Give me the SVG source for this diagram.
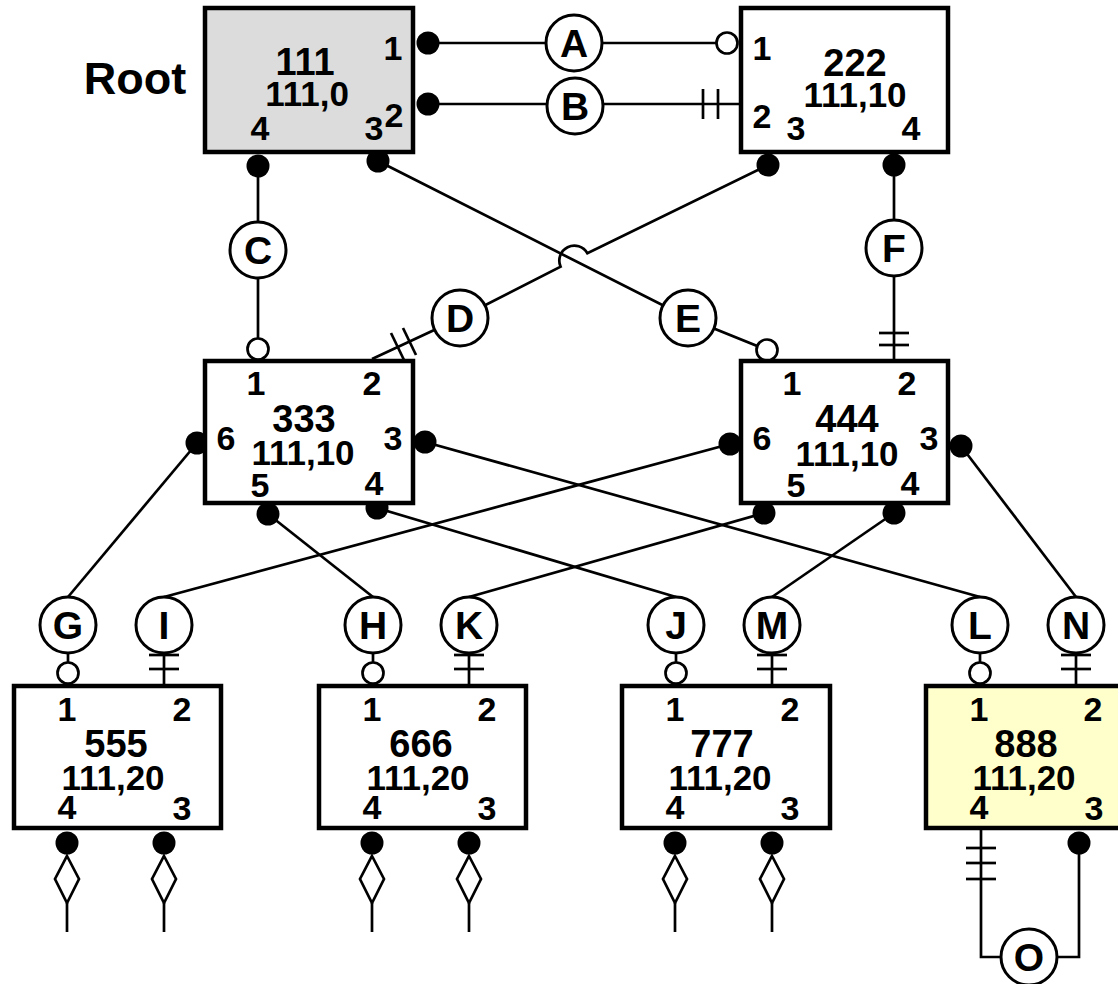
<svg xmlns="http://www.w3.org/2000/svg" width="1118" height="984" viewBox="0 0 1118 984">
<style>
.box{stroke:#000;stroke-width:4.5;fill:#fff}
.t{font-family:"Liberation Sans",Arial,Helvetica,sans-serif;font-weight:bold;text-anchor:middle;fill:#000}
.nm{font-size:38px}
.sub{font-size:35px}
.pt{font-size:34px}
.ln{stroke:#000;stroke-width:2.7;fill:none}
.dot{fill:#000}
.oc{fill:#fff;stroke:#000;stroke-width:2.7}
.lc{fill:#fff;stroke:#000;stroke-width:3}
.lt{font-size:39px}
</style>
<rect width="1118" height="984" fill="#fff"/>
<g id="connectors">
  <!-- A -->
  <line class="ln" x1="428" y1="43" x2="716" y2="43"/>
  <circle class="dot" cx="428" cy="43" r="11.5"/>
  <circle class="oc" cx="727" cy="43" r="10.5"/>
  <circle class="lc" cx="574" cy="43" r="28"/>
  <text class="t lt" x="574" y="57">A</text>
  <!-- B -->
  <line class="ln" x1="428" y1="104" x2="740" y2="104"/>
  <line class="ln" x1="703" y1="89" x2="703" y2="119"/>
  <line class="ln" x1="718" y1="89" x2="718" y2="119"/>
  <circle class="dot" cx="428" cy="104" r="11.5"/>
  <circle class="lc" cx="575" cy="106" r="28"/>
  <text class="t lt" x="575" y="120">B</text>
  <!-- C -->
  <line class="ln" x1="258" y1="166" x2="258" y2="339"/>
  <circle class="dot" cx="258" cy="166" r="11.5"/>
  <circle class="oc" cx="258" cy="349" r="10.5"/>
  <circle class="lc" cx="258" cy="250" r="28"/>
  <text class="t lt" x="258" y="264">C</text>
  <!-- E -->
  <path class="ln" d="M378,161 L688,318 L767,350"/>
  <circle class="dot" cx="378" cy="161" r="11.5"/>
  <circle class="oc" cx="767" cy="350" r="10.5"/>
  <circle class="lc" cx="688" cy="318" r="28"/>
  <text class="t lt" x="688" y="332">E</text>
  <!-- D (with hop over E) -->
  <path class="ln" d="M768,165 L587.4,253.3 A15,15 0 0 0 560.6,266.7 L460,318 L372,359"/>
  <line class="ln" x1="391" y1="333" x2="404" y2="360"/>
  <line class="ln" x1="403" y1="328" x2="416" y2="355"/>
  <circle class="dot" cx="768" cy="165" r="11.5"/>
  <circle class="lc" cx="460" cy="318" r="28"/>
  <text class="t lt" x="460" y="332">D</text>
  <!-- F -->
  <line class="ln" x1="894" y1="165" x2="894" y2="360"/>
  <line class="ln" x1="879" y1="333" x2="909" y2="333"/>
  <line class="ln" x1="879" y1="345" x2="909" y2="345"/>
  <circle class="dot" cx="894" cy="165" r="11.5"/>
  <circle class="lc" cx="894" cy="248" r="28"/>
  <text class="t lt" x="894" y="262">F</text>

  <!-- long connectors to bottom circles -->
  <line class="ln" x1="197" y1="443" x2="68" y2="597"/>
  <line class="ln" x1="730" y1="444" x2="164" y2="597"/>
  <line class="ln" x1="268" y1="514" x2="373" y2="597"/>
  <line class="ln" x1="764" y1="513" x2="469" y2="597"/>
  <line class="ln" x1="377" y1="508" x2="676" y2="597"/>
  <line class="ln" x1="894" y1="513" x2="772" y2="597"/>
  <line class="ln" x1="425" y1="442" x2="980" y2="597"/>
  <line class="ln" x1="961" y1="446" x2="1076" y2="597"/>
  <circle class="dot" cx="197" cy="443" r="11.5"/>
  <circle class="dot" cx="425" cy="442" r="11.5"/>
  <circle class="dot" cx="268" cy="514" r="11.5"/>
  <circle class="dot" cx="377" cy="508" r="11.5"/>
  <circle class="dot" cx="730" cy="444" r="11.5"/>
  <circle class="dot" cx="961" cy="446" r="11.5"/>
  <circle class="dot" cx="764" cy="513" r="11.5"/>
  <circle class="dot" cx="894" cy="513" r="11.5"/>

  <!-- optional (open circle) ends -->
  <line class="ln" x1="68" y1="625" x2="68" y2="662"/>
  <circle class="oc" cx="68" cy="673" r="10.5"/>
  <line class="ln" x1="373" y1="625" x2="373" y2="662"/>
  <circle class="oc" cx="373" cy="673" r="10.5"/>
  <line class="ln" x1="676" y1="625" x2="676" y2="662"/>
  <circle class="oc" cx="676" cy="673" r="10.5"/>
  <line class="ln" x1="980" y1="625" x2="980" y2="662"/>
  <circle class="oc" cx="980" cy="673" r="10.5"/>
  <!-- mandatory (double bar) ends -->
  <line class="ln" x1="164" y1="625" x2="164" y2="685"/>
  <line class="ln" x1="149" y1="655" x2="179" y2="655"/>
  <line class="ln" x1="149" y1="669" x2="179" y2="669"/>
  <line class="ln" x1="469" y1="625" x2="469" y2="685"/>
  <line class="ln" x1="454" y1="655" x2="484" y2="655"/>
  <line class="ln" x1="454" y1="669" x2="484" y2="669"/>
  <line class="ln" x1="772" y1="625" x2="772" y2="685"/>
  <line class="ln" x1="757" y1="655" x2="787" y2="655"/>
  <line class="ln" x1="757" y1="669" x2="787" y2="669"/>
  <line class="ln" x1="1076" y1="625" x2="1076" y2="685"/>
  <line class="ln" x1="1061" y1="655" x2="1091" y2="655"/>
  <line class="ln" x1="1061" y1="669" x2="1091" y2="669"/>

  <!-- bottom circles -->
  <circle class="lc" cx="68" cy="625" r="28"/><text class="t lt" x="68" y="639">G</text>
  <circle class="lc" cx="164" cy="625" r="28"/><text class="t lt" x="164" y="639">I</text>
  <circle class="lc" cx="373" cy="625" r="28"/><text class="t lt" x="373" y="639">H</text>
  <circle class="lc" cx="469" cy="625" r="28"/><text class="t lt" x="469" y="639">K</text>
  <circle class="lc" cx="676" cy="625" r="28"/><text class="t lt" x="676" y="639">J</text>
  <circle class="lc" cx="772" cy="625" r="28"/><text class="t lt" x="772" y="639">M</text>
  <circle class="lc" cx="980" cy="625" r="28"/><text class="t lt" x="980" y="639">L</text>
  <circle class="lc" cx="1076" cy="625" r="28"/><text class="t lt" x="1076" y="639">N</text>

  <!-- dangling diamond connectors -->
  <g id="dangles">
    <circle class="dot" cx="67" cy="843" r="11.5"/>
    <path class="oc" d="M67,856 L79,879 L67,903 L55,879 Z"/>
    <line class="ln" x1="67" y1="903" x2="67" y2="932"/>
    <circle class="dot" cx="164" cy="843" r="11.5"/>
    <path class="oc" d="M164,856 L176,879 L164,903 L152,879 Z"/>
    <line class="ln" x1="164" y1="903" x2="164" y2="932"/>
    <circle class="dot" cx="372" cy="843" r="11.5"/>
    <path class="oc" d="M372,856 L384,879 L372,903 L360,879 Z"/>
    <line class="ln" x1="372" y1="903" x2="372" y2="932"/>
    <circle class="dot" cx="469" cy="843" r="11.5"/>
    <path class="oc" d="M469,856 L481,879 L469,903 L457,879 Z"/>
    <line class="ln" x1="469" y1="903" x2="469" y2="932"/>
    <circle class="dot" cx="675" cy="843" r="11.5"/>
    <path class="oc" d="M675,856 L687,879 L675,903 L663,879 Z"/>
    <line class="ln" x1="675" y1="903" x2="675" y2="932"/>
    <circle class="dot" cx="772" cy="843" r="11.5"/>
    <path class="oc" d="M772,856 L784,879 L772,903 L760,879 Z"/>
    <line class="ln" x1="772" y1="903" x2="772" y2="932"/>
  </g>
  <!-- O: self-relationship on 888 -->
  <path class="ln" d="M981,830 L981,957 L1001,957"/>
  <path class="ln" d="M1057,957 L1079,957 L1079,843"/>
  <line class="ln" x1="966" y1="848" x2="996" y2="848"/>
  <line class="ln" x1="966" y1="863" x2="996" y2="863"/>
  <line class="ln" x1="966" y1="879" x2="996" y2="879"/>
  <circle class="dot" cx="1079" cy="843" r="11.5"/>
  <circle class="lc" cx="1029" cy="957" r="28"/>
  <text class="t lt" x="1029" y="971">O</text>
</g>

<text class="t" x="135" y="94" style="font-size:45px">Root</text>

<g id="n111">
  <rect class="box" x="205" y="8" width="208" height="144" style="fill:#dcdcdc"/>
  <text class="t nm" x="305" y="75">111</text>
  <text class="t sub" x="307" y="106">111,0</text>
  <text class="t pt" x="393" y="60">1</text>
  <text class="t pt" x="394" y="127">2</text>
  <text class="t pt" x="374" y="140">3</text>
  <text class="t pt" x="260" y="140">4</text>
</g>
<g id="n222">
  <rect class="box" x="741" y="8" width="207" height="144"/>
  <text class="t nm" x="855" y="76">222</text>
  <text class="t sub" x="855" y="107">111,10</text>
  <text class="t pt" x="762" y="60">1</text>
  <text class="t pt" x="762" y="128">2</text>
  <text class="t pt" x="796" y="140">3</text>
  <text class="t pt" x="911" y="140">4</text>
</g>
<g id="n333">
  <rect class="box" x="205" y="361" width="208" height="142"/>
  <text class="t nm" x="304" y="432">333</text>
  <text class="t sub" x="303" y="465">111,10</text>
  <text class="t pt" x="256" y="395">1</text>
  <text class="t pt" x="372" y="395">2</text>
  <text class="t pt" x="393" y="450">3</text>
  <text class="t pt" x="374" y="495">4</text>
  <text class="t pt" x="260" y="497">5</text>
  <text class="t pt" x="226" y="450">6</text>
</g>
<g id="n444">
  <rect class="box" x="741" y="361" width="207" height="142"/>
  <text class="t nm" x="847" y="432">444</text>
  <text class="t sub" x="847" y="466">111,10</text>
  <text class="t pt" x="792" y="395">1</text>
  <text class="t pt" x="907" y="395">2</text>
  <text class="t pt" x="929" y="450">3</text>
  <text class="t pt" x="910" y="495">4</text>
  <text class="t pt" x="796" y="497">5</text>
  <text class="t pt" x="762" y="450">6</text>
</g>
<g id="n555">
  <rect class="box" x="14" y="686" width="207" height="142"/>
  <text class="t nm" x="116" y="757">555</text>
  <text class="t sub" x="113" y="790">111,20</text>
  <text class="t pt" x="67" y="721">1</text>
  <text class="t pt" x="182" y="721">2</text>
  <text class="t pt" x="182" y="820">3</text>
  <text class="t pt" x="67" y="819">4</text>
</g>
<g id="n666">
  <rect class="box" x="319" y="686" width="207" height="142"/>
  <text class="t nm" x="421" y="757">666</text>
  <text class="t sub" x="418" y="790">111,20</text>
  <text class="t pt" x="372" y="721">1</text>
  <text class="t pt" x="487" y="721">2</text>
  <text class="t pt" x="487" y="820">3</text>
  <text class="t pt" x="372" y="819">4</text>
</g>
<g id="n777">
  <rect class="box" x="622" y="686" width="208" height="142"/>
  <text class="t nm" x="722" y="757">777</text>
  <text class="t sub" x="720" y="790">111,20</text>
  <text class="t pt" x="675" y="721">1</text>
  <text class="t pt" x="790" y="721">2</text>
  <text class="t pt" x="790" y="820">3</text>
  <text class="t pt" x="675" y="819">4</text>
</g>
<g id="n888">
  <rect class="box" x="926" y="686" width="220" height="142" style="fill:#ffffcc"/>
  <text class="t nm" x="1026" y="757">888</text>
  <text class="t sub" x="1024" y="790">111,20</text>
  <text class="t pt" x="979" y="721">1</text>
  <text class="t pt" x="1093" y="721">2</text>
  <text class="t pt" x="1094" y="820">3</text>
  <text class="t pt" x="979" y="819">4</text>
</g>
</svg>
